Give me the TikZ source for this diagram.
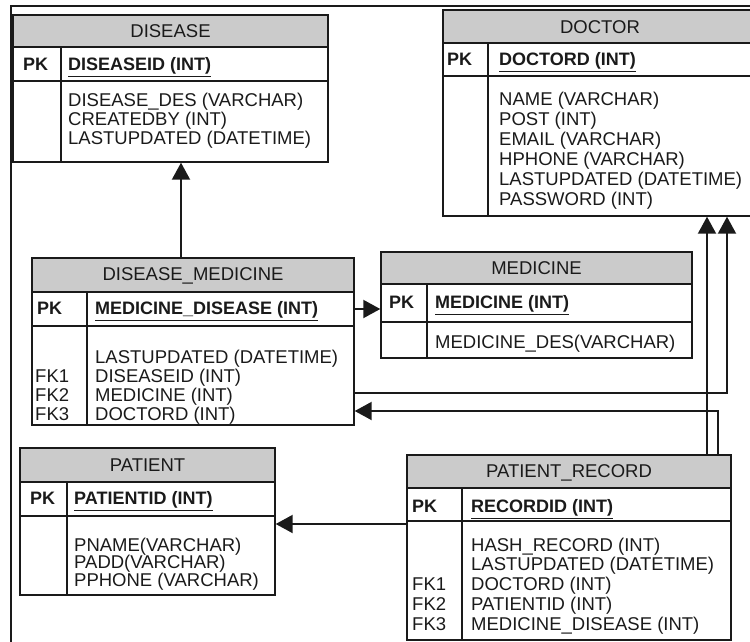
\documentclass[tikz,border=0pt]{standalone}
\usepackage{fontspec}
\setmainfont{Liberation Sans}
\usetikzlibrary{arrows.meta,fit}
\definecolor{hdrgray}{HTML}{CBCBCB}
\definecolor{ink}{HTML}{1A1A1A}
\tikzset{
 tblbox/.style={draw=ink,line width=1.4pt,inner sep=0pt},
 tblline/.style={draw=ink,line width=1.4pt},
 hdrfill/.style={fill=hdrgray},
 txt/.style={font=\fontsize{18.5pt}{20pt}\selectfont,text=ink,inner sep=0pt,anchor=base west},
 hdrtxt/.style={txt,anchor=base},
 pktxt/.style={txt,font=\fontsize{18pt}{20pt}\selectfont\bfseries},
 conn/.style={draw=ink,line width=2pt,-{Triangle[length=17pt,width=18pt]}},
 frameline/.style={draw=ink,line width=1.2pt}
}
% name, x1, y1, x2, y2, header bottom, pk bottom, divider x
\newcommand\erbox[8]{%
 \fill[hdrfill] (#2,#3) rectangle (#4,#6);
 \node[tblbox, fit={(#2,#3) (#4,#5)}] (#1) {};
 \draw[tblline] (#2,#6) -- (#4,#6) (#2,#7) -- (#4,#7) (#8,#6) -- (#8,#5);
}
\newcommand\tx[5]{\node[#1] (#2) at (#3,#4+6.6) {#5};}
\begin{document}
\begin{tikzpicture}[x=1pt,y=-1pt]
\useasboundingbox (0,0) rectangle (750,641);
\clip (0,0) rectangle (750,641);
\draw[frameline] (11,700) -- (11,6) -- (800,6);

% DISEASE
\erbox{disease}{13}{15}{328}{162}{47}{81}{61}
\tx{hdrtxt}{diseaseH}{170.5}{31}{DISEASE}
\tx{pktxt}{diseasePK}{23}{64}{PK}
\tx{pktxt}{diseasePKa}{68}{64}{\underline{DISEASEID (INT)}}
\tx{txt}{diseaseA}{68}{100}{DISEASE\_DES (VARCHAR)}
\tx{txt}{diseaseB}{68}{119}{CREATEDBY (INT)}
\tx{txt}{diseaseC}{68}{138}{LASTUPDATED (DATETIME)}

% DOCTOR
\erbox{doctor}{443}{10}{757}{216}{43}{76}{488}
\tx{hdrtxt}{doctorH}{600}{26.5}{DOCTOR}
\tx{pktxt}{doctorPK}{447}{59}{PK}
\tx{pktxt}{doctorPKa}{499}{59}{\underline{DOCTORD (INT)}}
\tx{txt}{doctorA}{499}{99}{NAME (VARCHAR)}
\tx{txt}{doctorB}{499}{119}{POST (INT)}
\tx{txt}{doctorC}{499}{139}{EMAIL (VARCHAR)}
\tx{txt}{doctorD}{499}{159}{HPHONE (VARCHAR)}
\tx{txt}{doctorE}{499}{179}{LASTUPDATED (DATETIME)}
\tx{txt}{doctorF}{499}{199}{PASSWORD (INT)}

% DISEASE_MEDICINE
\erbox{dm}{32}{258}{354}{425}{292}{326}{87}
\tx{hdrtxt}{dmH}{193}{274}{DISEASE\_MEDICINE}
\tx{pktxt}{dmPK}{37}{308}{PK}
\tx{pktxt}{dmPKa}{95}{308}{\underline{MEDICINE\_DISEASE (INT)}}
\tx{txt}{dmA}{95}{357}{LASTUPDATED (DATETIME)}
\tx{txt}{dmB}{95}{376}{DISEASEID (INT)}
\tx{txt}{dmC}{95}{395}{MEDICINE (INT)}
\tx{txt}{dmD}{95}{414}{DOCTORD (INT)}
\tx{txt}{dmF1}{35}{376}{FK1}
\tx{txt}{dmF2}{35}{395}{FK2}
\tx{txt}{dmF3}{35}{414}{FK3}

% MEDICINE
\erbox{medicine}{381}{252}{692}{358}{284}{322}{427}
\tx{hdrtxt}{medH}{536.5}{268}{MEDICINE}
\tx{pktxt}{medPK}{389}{302}{PK}
\tx{pktxt}{medPKa}{435}{302}{\underline{MEDICINE (INT)}}
\tx{txt}{medA}{435}{342}{MEDICINE\_DES(VARCHAR)}

% PATIENT
\erbox{patient}{20}{448}{275}{595}{482}{516}{67}
\tx{hdrtxt}{patH}{147.5}{465}{PATIENT}
\tx{pktxt}{patPK}{30}{498}{PK}
\tx{pktxt}{patPKa}{74}{498}{\underline{PATIENTID (INT)}}
\tx{txt}{patA}{74}{544.5}{PNAME(VARCHAR)}
\tx{txt}{patB}{74}{562}{PADD(VARCHAR)}
\tx{txt}{patC}{74}{579.5}{PPHONE (VARCHAR)}

% PATIENT_RECORD
\erbox{pr}{407}{455}{731}{640}{488}{521}{462}
\tx{hdrtxt}{prH}{569}{471}{PATIENT\_RECORD}
\tx{pktxt}{prPK}{412}{506}{PK}
\tx{pktxt}{prPKa}{471}{506}{\underline{RECORDID (INT)}}
\tx{txt}{prA}{471}{545}{HASH\_RECORD (INT)}
\tx{txt}{prB}{471}{564}{LASTUPDATED (DATETIME)}
\tx{txt}{prC}{471}{584}{DOCTORD (INT)}
\tx{txt}{prD}{471}{604}{PATIENTID (INT)}
\tx{txt}{prE}{471}{624}{MEDICINE\_DISEASE (INT)}
\tx{txt}{prF1}{412}{584}{FK1}
\tx{txt}{prF2}{412}{604}{FK2}
\tx{txt}{prF3}{412}{624}{FK3}

% connector lanes
\coordinate (lA) at (181,0);
\coordinate (lB) at (0,309);
\coordinate (lC) at (727,393);
\coordinate (lD) at (707,0);
\coordinate (lE) at (718,411);
\coordinate (lF) at (0,524);

\draw[conn] (lA |- dm.north) -- (lA |- disease.south);
\draw[conn] (lB -| dm.east) -- (lB -| medicine.west);
\draw[conn] (lC -| dm.east) -- (lC) -- (lC |- doctor.south);
\draw[conn] (lD |- pr.north) -- (lD |- doctor.south);
\draw[conn] (lE |- pr.north) -- (lE) -- (lE -| dm.east);
\draw[conn] (lF -| pr.west) -- (lF -| patient.east);
\end{tikzpicture}
\end{document}
